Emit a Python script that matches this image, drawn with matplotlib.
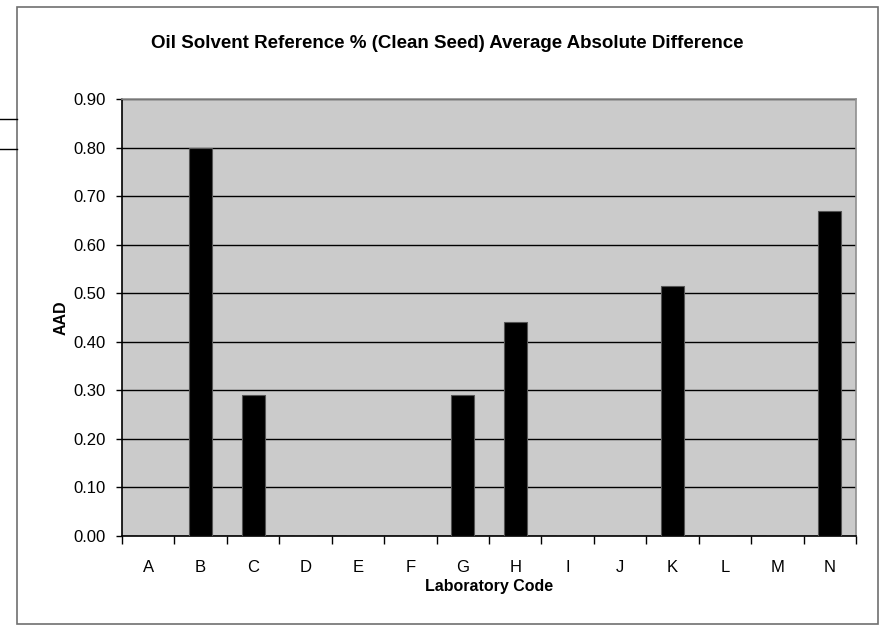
import matplotlib.pyplot as plt
import numpy as np
from matplotlib.lines import Line2D
from matplotlib.patches import Rectangle

plt.rcParams['font.family'] = ['Liberation Sans', 'DejaVu Sans']

labs = ['A', 'B', 'C', 'D', 'E', 'F', 'G', 'H', 'I', 'J', 'K', 'L', 'M', 'N']
aad = [0, 0.80, 0.29, 0, 0, 0, 0.29, 0.44, 0, 0, 0.515, 0, 0, 0.67]
yticks = [0.0, 0.1, 0.2, 0.3, 0.4, 0.5, 0.6, 0.7, 0.8, 0.9]

W, H = 881, 625
fig = plt.figure(figsize=(W / 100, H / 100), dpi=100)
ax = fig.add_axes([122 / W, (H - 536) / H, (856 - 122) / W, (536 - 99) / H])

x = np.arange(len(labs))
ax.set_facecolor('#cbcbcb')
ax.bar(x, aad, width=0.44, color='black', edgecolor='#555555', linewidth=0.8, zorder=3)

ax.set_xlim(-0.5, len(labs) - 0.5)
ax.set_ylim(0, 0.9)
ax.set_yticks(yticks)
ax.set_yticklabels([f'{v:.2f}' for v in yticks], fontsize=12)
ax.set_xticks(x)
ax.set_xticklabels(labs, fontsize=12)
ax.tick_params(axis='x', length=0, pad=17)
ax.tick_params(axis='y', length=4, width=1, pad=8)
# category separators below the axis
ax.set_xticks(np.arange(-0.5, len(labs)), minor=True)
ax.tick_params(axis='x', which='minor', length=6, width=1, direction='out')

ax.grid(axis='y', color='black', linewidth=1, zorder=1)
ax.set_axisbelow(True)
ax.spines['left'].set_color('black')
ax.spines['bottom'].set_color('black')
ax.spines['top'].set_color('#909090')
ax.spines['right'].set_color('#909090')
for s in ax.spines.values():
    s.set_linewidth(1.2)

ax.set_xlabel('Laboratory Code', fontsize=11.5, fontweight='bold', labelpad=3)
ax.set_ylabel('AAD', fontsize=11.5, fontweight='bold', labelpad=3)
fig.text(447.5 / W, 1 - 43 / H,
         'Oil Solvent Reference % (Clean Seed) Average Absolute Difference',
         ha='center', va='center', fontsize=13.5, fontweight='bold')

# outer chart frame and stray page lines
fig.add_artist(Rectangle((17 / W, 1 - 624 / H), (878 - 17) / W, (624 - 7) / H,
                         transform=fig.transFigure, fill=False,
                         edgecolor='#707070', linewidth=1.2))
for yy in (119, 149):
    fig.add_artist(Line2D([0, 17 / W], [1 - yy / H, 1 - yy / H],
                          transform=fig.transFigure, color='black', linewidth=1))

fig.savefig('out.png', dpi=100)
